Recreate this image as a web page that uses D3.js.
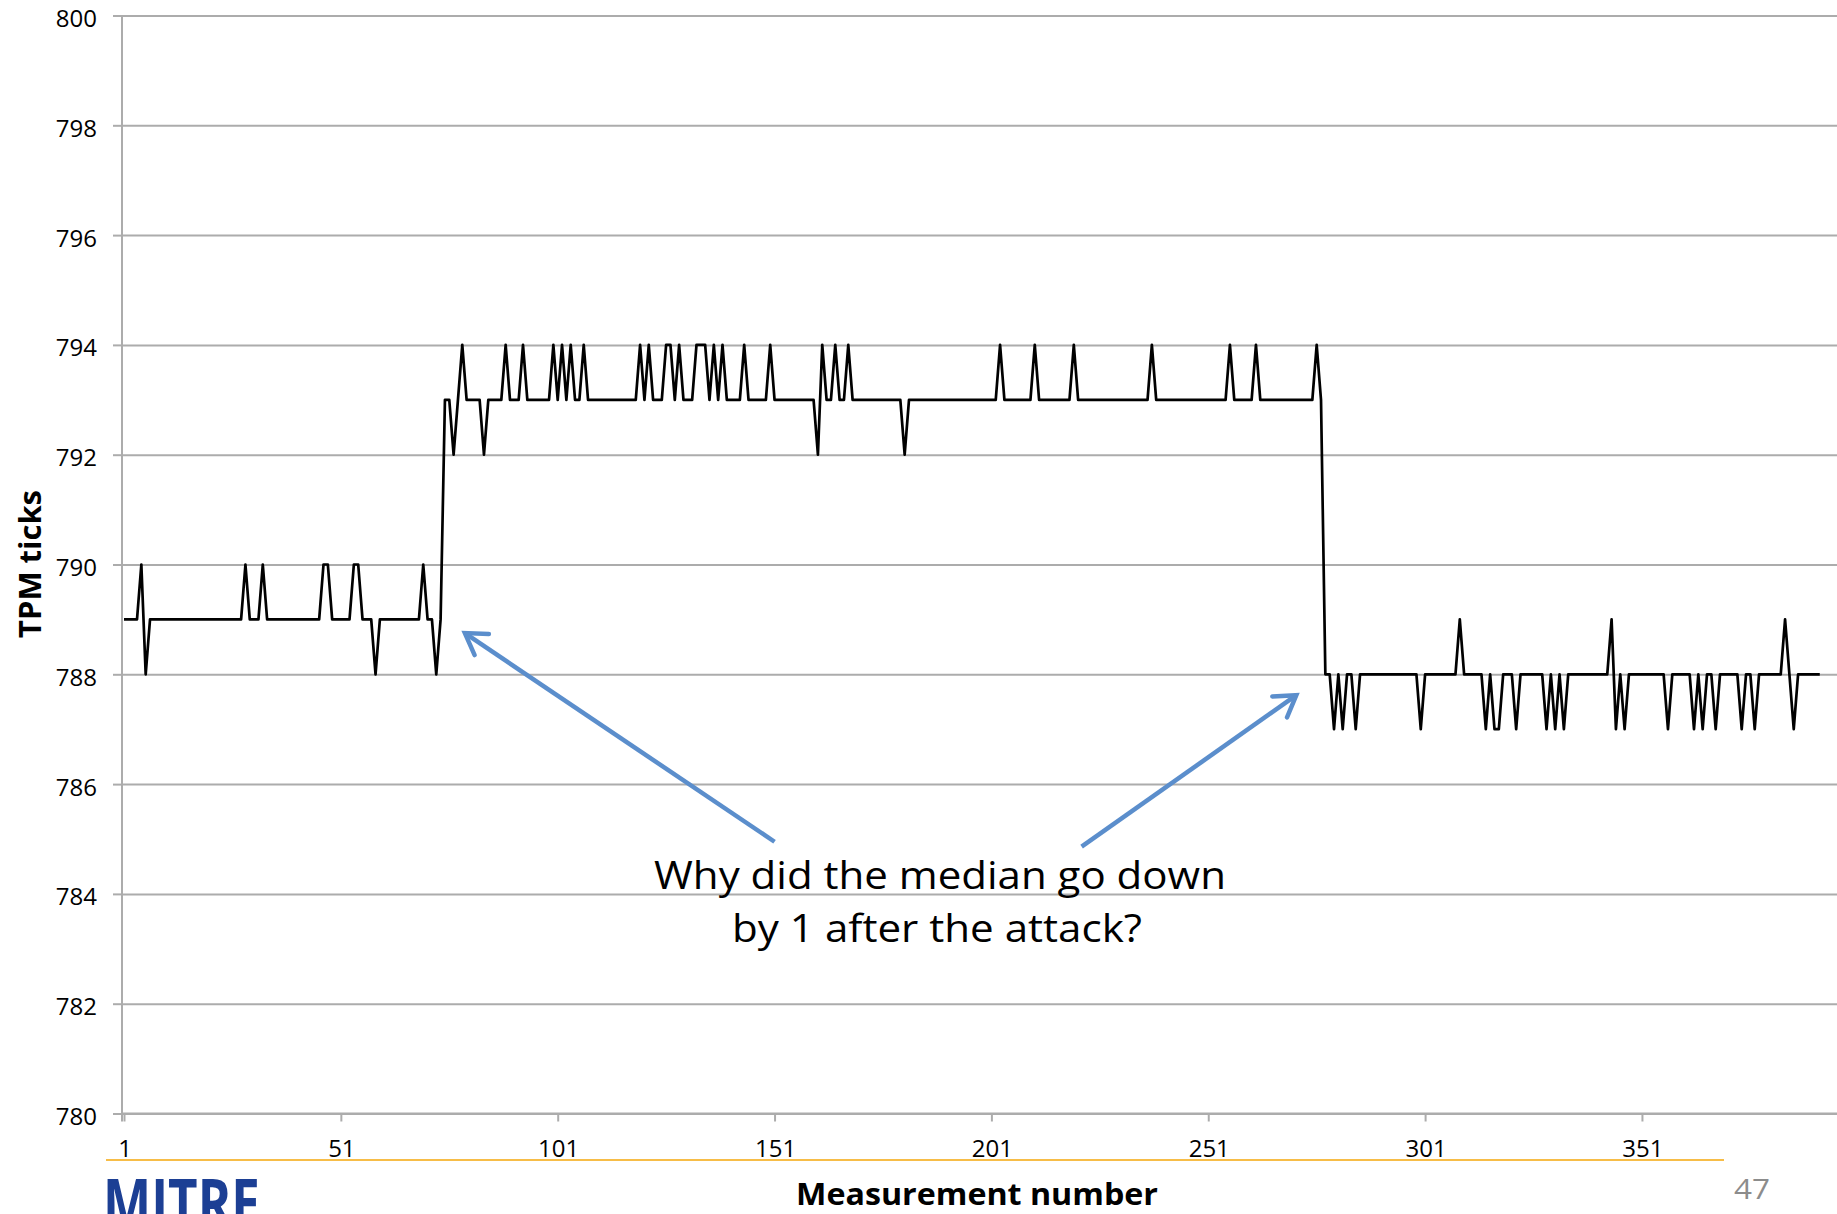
<!DOCTYPE html>
<html>
<head>
<meta charset="utf-8">
<script src="https://cdn.jsdelivr.net/npm/d3@7"></script>
<style>
  html, body { margin: 0; padding: 0; background: #fff; overflow: hidden; }
  svg { display: block; }
  text { font-family: "Open Sans", "Liberation Sans", sans-serif; }
</style>
</head>
<body>
<svg id="chart" width="1837" height="1214"></svg>
<script>
// TPM tick count per measurement
const tpmTicks = [
  789,789,789,789,790,788,789,789,789,789, 789,789,789,789,789,789,789,789,789,789,
  789,789,789,789,789,789,789,789,790,789, 789,789,790,789,789,789,789,789,789,789,
  789,789,789,789,789,789,790,790,789,789, 789,789,789,790,790,789,789,789,788,789,
  789,789,789,789,789,789,789,789,789,790, 789,789,788,789,793,793,792,793,794,793,
  793,793,793,792,793,793,793,793,794,793, 793,793,794,793,793,793,793,793,793,794,
  793,794,793,794,793,793,794,793,793,793, 793,793,793,793,793,793,793,793,793,794,
  793,794,793,793,793,794,794,793,794,793, 793,793,794,794,794,793,794,793,794,793,
  793,793,793,794,793,793,793,793,793,794, 793,793,793,793,793,793,793,793,793,793,
  792,794,793,793,794,793,793,794,793,793, 793,793,793,793,793,793,793,793,793,793,
  792,793,793,793,793,793,793,793,793,793, 793,793,793,793,793,793,793,793,793,793,
  793,793,794,793,793,793,793,793,793,793, 794,793,793,793,793,793,793,793,793,794,
  793,793,793,793,793,793,793,793,793,793, 793,793,793,793,793,793,793,794,793,793,
  793,793,793,793,793,793,793,793,793,793, 793,793,793,793,793,794,793,793,793,793,
  793,794,793,793,793,793,793,793,793,793, 793,793,793,793,793,794,793,788,788,787,
  788,787,788,788,787,788,788,788,788,788, 788,788,788,788,788,788,788,788,788,787,
  788,788,788,788,788,788,788,788,789,788, 788,788,788,788,787,788,787,787,788,788,
  788,787,788,788,788,788,788,788,787,788, 787,788,787,788,788,788,788,788,788,788,
  788,788,788,789,787,788,787,788,788,788, 788,788,788,788,788,788,787,788,788,788,
  788,788,787,788,787,788,788,787,788,788, 788,788,788,787,788,788,787,788,788,788,
  788,788,788,789,788,787,788,788,788,788, 788,788
];
// measurement numbers (categories)
const measurement = tpmTicks.map((_, i) => i + 1);

const yTickValues = [780, 782, 784, 786, 788, 790, 792, 794, 796, 798, 800];
const xTickValues = [1, 51, 101, 151, 201, 251, 301, 351];

const xTitle = "Measurement number";
const yTitle = "TPM ticks";
const calloutLines = ["Why did the median go down", "by 1 after the attack?"];
const slideNumber = "47";

const W = 1837, H = 1214;
const axisX = 122, plotTop = 15.5, plotBottom = 1113.5;

const svg = d3.select("#chart");

// category positions (axis "on tick marks": first category sits at the axis)
const x = d3.scaleLinear().domain([1, 396.4]).range([124, 124 + 395.4 * 4.337]);
const y = d3.scaleLinear().domain([780, 800]).range([plotBottom, plotTop]);

const gridColor = "#acacac";

// horizontal gridlines
svg.append("g")
  .attr("transform", `translate(${axisX},0)`)
  .call(d3.axisLeft(y).tickValues(yTickValues).tickSize(-(W - axisX)).tickFormat(""))
  .call(g => g.select(".domain").remove())
  .call(g => g.selectAll("line").attr("stroke", gridColor).attr("stroke-width", 2));

// y axis
const yAxis = svg.append("g")
  .attr("transform", `translate(${axisX},0)`)
  .call(d3.axisLeft(y).tickValues(yTickValues).tickSizeInner(9).tickSizeOuter(0).tickPadding(16).tickFormat(d3.format("d")));
yAxis.select(".domain").attr("stroke", gridColor).attr("stroke-width", 2)
  .attr("d", `M0,${plotBottom + 8}V${plotTop}`);
yAxis.selectAll(".tick line").attr("stroke", gridColor).attr("stroke-width", 2);
yAxis.selectAll(".tick text")
  .attr("font-size", 24).attr("fill", "#000")
  .attr("font-family", "'Open Sans', sans-serif")
  .attr("dy", 0).attr("y", 11);

// x axis
const xAxis = svg.append("g")
  .attr("transform", `translate(0,${plotBottom})`)
  .call(d3.axisBottom(x).tickValues(xTickValues).tickSizeInner(8).tickSizeOuter(0).tickFormat(d3.format("d")));
xAxis.select(".domain").attr("stroke", gridColor).attr("stroke-width", 2)
  .attr("d", `M${axisX},0H${W}`);
xAxis.selectAll(".tick line").attr("stroke", gridColor).attr("stroke-width", 2);
xAxis.selectAll(".tick text")
  .attr("font-size", 24).attr("fill", "#000")
  .attr("font-family", "'Open Sans', sans-serif")
  .attr("dy", 0).attr("y", 43.5).attr("x", 0.5);

// the series
const line = d3.line()
  .x((d, i) => x(measurement[i]))
  .y(d => y(d));

svg.append("path")
  .datum(tpmTicks)
  .attr("d", line)
  .attr("fill", "none")
  .attr("stroke", "#000")
  .attr("stroke-width", 2.7)
  .attr("stroke-linejoin", "round");

// text placed with a horizontal fit to a given width
function fittedText(str, cx, by, opts) {
  const t = svg.append("text")
    .text(str)
    .attr("text-anchor", opts.anchor || "middle")
    .attr("font-size", opts.size)
    .attr("font-weight", opts.weight || "normal")
    .attr("fill", opts.fill || "#000");
  if (opts.family) t.attr("font-family", opts.family);
  const len = t.node().getComputedTextLength();
  const s = opts.width ? opts.width / len : 1;
  const rot = opts.rotate ? ` rotate(${opts.rotate})` : "";
  t.attr("transform", `translate(${cx},${by})${rot} scale(${s},1)`);
  return t;
}

// axis titles
fittedText(xTitle, 977, 1205, { size: 30, weight: "bold", width: 362 });
fittedText(yTitle, 41, 564, { size: 30, weight: "bold", width: 148, rotate: -90 });

// callout arrows, anchored in data space
const callouts = [
  { from: [151.0, 784.95], to: [79.6, 788.75] },
  { from: [221.8, 784.86], to: [271.3, 787.62] }
];
const arrowColor = "#5b8ecc";
const ga = svg.append("g")
  .attr("fill", "none")
  .attr("stroke", arrowColor)
  .attr("stroke-width", 4.5);
callouts.forEach(c => {
  const x0 = x(c.from[0]), y0 = y(c.from[1]);
  const x1 = x(c.to[0]), y1 = y(c.to[1]);
  const a = Math.atan2(y1 - y0, x1 - x0);
  const L = 24, spread = 0.56;
  const b1 = [x1 - L * Math.cos(a - spread), y1 - L * Math.sin(a - spread)];
  const b2 = [x1 - L * Math.cos(a + spread), y1 - L * Math.sin(a + spread)];
  ga.append("path").attr("d", `M${x0},${y0}L${x1},${y1}`);
  ga.append("path").attr("d", `M${b1[0]},${b1[1]}L${x1},${y1}L${b2[0]},${b2[1]}`)
    .attr("stroke-linejoin", "miter").attr("stroke-linecap", "round");
});

// callout text
fittedText(calloutLines[0], 940, 889, { size: 39, width: 572 });
fittedText(calloutLines[1], 937, 942, { size: 39, width: 410 });

// slide footer
svg.append("line")
  .attr("x1", 106).attr("x2", 1724)
  .attr("y1", 1160).attr("y2", 1160)
  .attr("stroke", "#f7bd48").attr("stroke-width", 2);

fittedText("MITRE", 103, 1227, {
  size: 66, weight: "bold", width: 157, anchor: "start",
  fill: "#1c3f94", family: "'Liberation Sans', Arial, sans-serif"
});
fittedText(slideNumber, 1734, 1199, { size: 28, width: 36, anchor: "start", fill: "#8c8c8c" });
</script>
</body>
</html>
